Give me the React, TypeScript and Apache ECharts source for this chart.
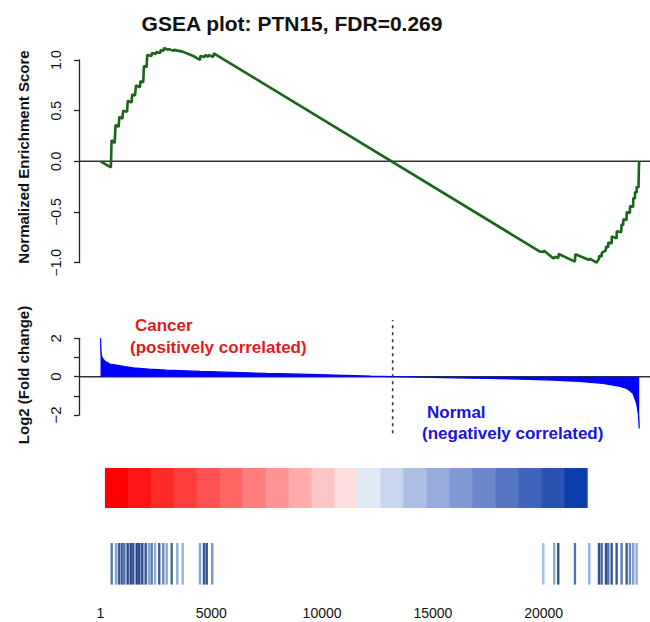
import React, { useEffect, useRef } from "react";
import * as echarts from "echarts";

// ---------- data ----------
const rankMin = -970;
const rankMax = 24800;
const xTickValues = [1, 5000, 10000, 15000, 20000];

// running enrichment score: [rank, NES]
const esPoints: number[][] = [
  [1, 0.0], [470, -0.06], [500, 0.21], [640, 0.18], [680, 0.36], [820, 0.34], [850, 0.44],
  [990, 0.42], [1020, 0.5], [1200, 0.49], [1230, 0.6], [1400, 0.58], [1430, 0.66], [1560, 0.65],
  [1600, 0.75], [1780, 0.73], [1800, 0.79], [1930, 0.78], [1960, 0.94], [2080, 0.93], [2110, 1.05],
  [2300, 1.04], [2320, 1.07], [2500, 1.06], [2520, 1.08], [2700, 1.07], [2720, 1.1], [2850, 1.09],
  [2870, 1.12], [3050, 1.1], [3070, 1.11], [3300, 1.09], [3320, 1.1], [3736, 1.08], [4188, 1.04],
  [4490, 1.0], [4510, 1.04], [4700, 1.03], [4720, 1.05], [4865, 1.03], [4880, 1.05], [5090, 1.03],
  [5110, 1.066], [19830, -0.89], [20000, -0.895], [20010, -0.88], [20430, -0.957], [20480, -0.955],
  [20500, -0.94], [20660, -0.955], [20680, -0.914], [21412, -0.99], [21430, -0.917], [22060, -0.973],
  [22080, -0.96], [22390, -1.0], [22500, -0.96], [22510, -0.93], [22616, -0.94], [22630, -0.9],
  [22800, -0.88], [22815, -0.84], [22910, -0.85], [22920, -0.8], [23070, -0.81], [23075, -0.74],
  [23292, -0.76], [23300, -0.69], [23500, -0.7], [23520, -0.62], [23592, -0.63], [23600, -0.57],
  [23740, -0.58], [23750, -0.5], [23894, -0.51], [23900, -0.44], [24040, -0.45], [24045, -0.36],
  [24119, -0.37], [24125, -0.3], [24197, -0.31], [24200, -0.25], [24280, -0.26], [24300, -0.05],
  [24314, 0.0],
];

// ranked log2 fold change: [rank, log2FC]
const foldChange: number[][] = [
  [1, 2.0], [20, 1.4], [50, 1.05], [126, 0.92], [200, 0.8], [430, 0.66], [730, 0.6], [1100, 0.52],
  [1470, 0.46], [2200, 0.39], [3000, 0.34], [4500, 0.27], [6000, 0.22], [7500, 0.17], [9000, 0.13],
  [11000, 0.07], [12200, 0.03], [13186, 0.0], [14500, -0.03], [16000, -0.06], [17500, -0.09],
  [19000, -0.13], [20400, -0.18], [21600, -0.25], [22670, -0.35], [23400, -0.5], [23760, -0.62],
  [24030, -0.87], [24197, -1.4], [24280, -2.0], [24314, -2.7],
];

const zeroCrossRank = 13186;
const dashedRange = [-2.95, 2.95];

// colour strip (ranked list, red -> blue)
const colorBarRange = [200, 21960];
const colorBarColors = [
  "#FF0000", "#FF1515", "#FF2A2A", "#FF3E3E", "#FF5252", "#FF6767", "#FF7D7D", "#FF9494",
  "#FFACAC", "#FFC6C6", "#FFDFDF", "#E2E9F6", "#C9D5EE", "#AEBFE4", "#97ACDC", "#8099D5",
  "#6B88CC", "#5676C4", "#4064BC", "#2A53B4", "#0E3DAD",
];

// gene-set hits: rank and shade (0 light .. 1 dark)
const hitRanks = [
  505, 700, 835, 957, 1074, 1227, 1363, 1480, 1634, 1751, 1886, 2040, 2189, 2310, 2460, 2653,
  2834, 2987, 3213, 3466, 3709, 4490, 4670, 4792, 5045,
  19982, 20478, 20659, 21412, 22058, 22496, 22617, 22811, 22915, 23069, 23295, 23520, 23746,
  23894, 24043, 24197,
];
const hitShades = [
  0.55, 0.25, 0.8, 0.75, 0.65, 0.95, 0.95, 0.85, 0.95, 0.95, 0.9, 0.85, 0.25, 0.55, 0.2, 0.8,
  0.45, 0.2, 0.7, 0.2, 0.15, 0.25, 0.8, 0.9, 0.35,
  0.05, 0.2, 0.85, 0.6, 0.15, 0.85, 0.7, 0.85, 0.6, 0.8, 0.8, 0.55, 0.75, 0.45, 0.3, 0.2,
];

const FONT = "'Liberation Sans', Arial, Helvetica, sans-serif";
const AX = "#222";

function shade(w: number) {
  const a = [165, 200, 235];
  const b = [30, 62, 130];
  const c = a.map((v, i) => Math.round(v + (b[i] - v) * w));
  return `rgb(${c[0]},${c[1]},${c[2]})`;
}

function fmtNum(v: number, d: number) {
  const s = Math.abs(v).toFixed(d);
  return v < 0 ? "\u2212" + s : s;
}

export default function App() {
  const ref = useRef<HTMLDivElement>(null);

  useEffect(() => {
    if (!ref.current) return;
    const chart = echarts.init(ref.current, undefined, { renderer: "svg" });

    const barW = (colorBarRange[1] - colorBarRange[0]) / colorBarColors.length;
    const colorBarData = colorBarColors.map((_, i) => [
      colorBarRange[0] + i * barW,
      colorBarRange[0] + (i + 1) * barW,
      i,
    ]);
    const hitData = hitRanks.map((r, i) => [r, hitShades[i]]);

    const yAxisCommon = {
      type: "value" as const,
      splitLine: { show: false },
      axisLine: { show: true, onZero: false, lineStyle: { color: AX, width: 1.3 } },
      axisTick: { show: true, length: 5, lineStyle: { color: AX, width: 1.3 } },
    };

    const option: any = {
      animation: false,
      backgroundColor: "#fff",
      title: {
        text: "GSEA plot: PTN15, FDR=0.269",
        left: 287,
        top: 8,
        textAlign: "center",
        textStyle: { fontFamily: FONT, fontSize: 21, fontWeight: "bold", color: "#111" },
      },
      grid: [
        { left: 79, right: 0, top: 60, height: 202.7 },
        { left: 79, right: 0, top: 338.3, height: 76.7 },
        { left: 79, right: 0, top: 468, height: 119 },
      ],
      xAxis: [
        { type: "value", gridIndex: 0, min: rankMin, max: rankMax, show: false },
        { type: "value", gridIndex: 1, min: rankMin, max: rankMax, show: false },
        {
          type: "value",
          gridIndex: 2,
          min: rankMin,
          max: rankMax,
          axisLine: { show: false },
          axisTick: { show: false },
          splitLine: { show: false },
          axisLabel: {
            customValues: xTickValues,
            formatter: (v: number) => String(v),
            fontFamily: FONT,
            fontSize: 14,
            color: "#111",
            margin: 19,
          },
        },
      ],
      yAxis: [
        {
          ...yAxisCommon,
          gridIndex: 0,
          min: -1,
          max: 1,
          interval: 0.5,
          axisLabel: {
            rotate: 90,
            margin: 16,
            fontFamily: FONT,
            fontSize: 14,
            color: "#111",
            formatter: (v: number) => fmtNum(v, 1),
          },
        },
        {
          ...yAxisCommon,
          gridIndex: 1,
          min: -2,
          max: 2,
          interval: 1,
          axisLabel: {
            rotate: 90,
            margin: 16,
            fontFamily: FONT,
            fontSize: 15,
            color: "#111",
            formatter: (v: number) => (Math.round(v) % 2 === 0 ? fmtNum(v, 0) : ""),
          },
        },
        { type: "value", gridIndex: 2, min: 0, max: 1, show: false },
      ],
      graphic: [
        {
          type: "text",
          x: 23,
          y: 157,
          rotation: Math.PI / 2,
          style: {
            text: "Normalized Enrichment Score",
            font: `bold 15px ${FONT}`,
            fill: "#111",
            textAlign: "center",
            textVerticalAlign: "middle",
          },
        },
        {
          type: "text",
          x: 23,
          y: 375,
          rotation: Math.PI / 2,
          style: {
            text: "Log2 (Fold change)",
            font: `bold 15px ${FONT}`,
            fill: "#111",
            textAlign: "center",
            textVerticalAlign: "middle",
          },
        },
        {
          type: "text",
          x: 135,
          y: 325,
          style: { text: "Cancer", font: `bold 17px ${FONT}`, fill: "#E41A1C", textVerticalAlign: "middle" },
        },
        {
          type: "text",
          x: 130,
          y: 347,
          style: {
            text: "(positively correlated)",
            font: `bold 17px ${FONT}`,
            fill: "#E41A1C",
            textVerticalAlign: "middle",
          },
        },
        {
          type: "text",
          x: 427,
          y: 412,
          style: { text: "Normal", font: `bold 17px ${FONT}`, fill: "#1515DD", textVerticalAlign: "middle" },
        },
        {
          type: "text",
          x: 422,
          y: 433,
          style: {
            text: "(negatively correlated)",
            font: `bold 17px ${FONT}`,
            fill: "#1515DD",
            textVerticalAlign: "middle",
          },
        },
      ],
      series: [
        {
          type: "line",
          xAxisIndex: 0,
          yAxisIndex: 0,
          data: [[rankMin, 0], [rankMax, 0]],
          symbol: "none",
          silent: true,
          z: 1,
          lineStyle: { color: "#333", width: 1.5 },
        },
        {
          type: "line",
          xAxisIndex: 0,
          yAxisIndex: 0,
          data: esPoints,
          symbol: "none",
          clip: false,
          z: 3,
          lineStyle: { color: "#1B651B", width: 2.6 },
        },
        {
          type: "line",
          xAxisIndex: 1,
          yAxisIndex: 1,
          data: [[rankMin, 0], [rankMax, 0]],
          symbol: "none",
          silent: true,
          z: 1,
          lineStyle: { color: "#333", width: 1.5 },
        },
        {
          type: "line",
          xAxisIndex: 1,
          yAxisIndex: 1,
          data: foldChange,
          symbol: "none",
          clip: false,
          z: 3,
          lineStyle: { color: "#0000FF", width: 1.2 },
          areaStyle: { color: "#0000FF", opacity: 1, origin: "auto" },
        },
        {
          type: "line",
          xAxisIndex: 1,
          yAxisIndex: 1,
          data: [[zeroCrossRank, dashedRange[0]], [zeroCrossRank, dashedRange[1]]],
          symbol: "none",
          clip: false,
          z: 4,
          lineStyle: { color: "#333", width: 1.6, type: [3, 4] },
        },
        {
          type: "custom",
          xAxisIndex: 2,
          yAxisIndex: 2,
          data: colorBarData,
          encode: { x: [0, 1] },
          renderItem: (params: any, api: any) => {
            const p0 = api.coord([api.value(0), 1]);
            const p1 = api.coord([api.value(1), 0.664]);
            return {
              type: "rect",
              shape: { x: p0[0], y: p0[1], width: p1[0] - p0[0] + 0.6, height: p1[1] - p0[1] },
              style: { fill: colorBarColors[api.value(2)] },
            };
          },
        },
        {
          type: "custom",
          xAxisIndex: 2,
          yAxisIndex: 2,
          data: hitData,
          encode: { x: 0 },
          renderItem: (params: any, api: any) => {
            const t = api.coord([api.value(0), 0.37]);
            const b = api.coord([api.value(0), 0.02]);
            return {
              type: "line",
              shape: { x1: t[0], y1: t[1], x2: t[0], y2: b[1] },
              style: { stroke: shade(api.value(1)), lineWidth: 2.4 },
            };
          },
        },
      ],
    };

    chart.setOption(option);
    return () => chart.dispose();
  }, []);

  return (
    <div
      ref={ref}
      style={{ position: "absolute", left: 0, top: 0, width: 650, height: 622, background: "#fff" }}
    />
  );
}
